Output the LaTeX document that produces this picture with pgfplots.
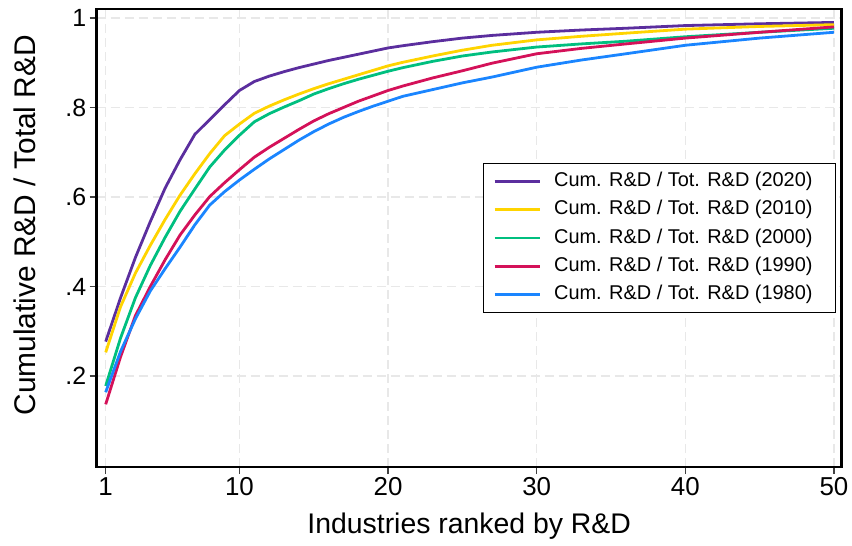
\documentclass[border=0pt]{standalone}
\usepackage{fontspec}
\setmainfont{Liberation Sans}
\usepackage{pgfplots}
\pgfplotsset{compat=1.18}
\definecolor{c2020}{RGB}{91,46,158}
\definecolor{c2010}{RGB}{255,212,0}
\definecolor{c2000}{RGB}{0,191,127}
\definecolor{c1990}{RGB}{212,17,89}
\definecolor{c1980}{RGB}{26,133,255}
\newcommand{\pad}{\rule{13bp}{0bp}}
\begin{document}
\begin{tikzpicture}
\useasboundingbox (-96.7bp,-79bp) rectangle (755.3bp,467bp);
\begin{axis}[
  at={(0,0)}, anchor=south west,
  scale only axis, width=745bp, height=458bp,
  xmin=0.395, xmax=50.52, ymin=-0.003, ymax=1.02,
  xtick={1,10,20,30,40,50},
  ytick={0.2,0.4,0.6,0.8,1},
  yticklabels={.2,.4,.6,.8,1},
  tick align=outside, xtick pos=bottom, ytick pos=left,
  major tick length=7bp,
  every tick/.style={black!75, line width=1.3bp},
  axis line style={black, line width=2.6bp},
  grid=major,
  major grid style={dash pattern=on 9bp off 5bp, black!9, line width=1.4bp},
  /pgf/number format/assume math mode=true,
  xticklabel style={font=\fontsize{26}{30}\selectfont},
  yticklabel style={font=\fontsize{25}{30}\selectfont},
  every axis x label/.style={at={(axis description cs:0.5,0)}, anchor=center, yshift=-59bp, font=\fontsize{28.5}{32}\selectfont},
  every axis y label/.style={at={(axis description cs:-0.0962,0.528)}, anchor=center, rotate=90, font=\fontsize{30}{34}\selectfont},
  xlabel={Industries ranked by R\&D},
  ylabel={Cumulative R\&D / Total R\&D},
  legend style={at={(rel axis cs:0.992,0.6644)}, anchor=north east, draw=black, line width=1bp,
    font=\fontsize{20}{24}\selectfont, inner xsep=9.7bp, inner ysep=8.2bp, row sep=8.3bp, column sep=13.3bp,
    nodes={inner sep=0bp, text height=15bp, text depth=5bp}},
  legend cell align=left,
  legend image code/.code={\draw[#1, line width=2.6bp] (0bp,0bp) -- (45bp,0bp);},
]
\addplot[c2020, line width=2.8bp] coordinates {
(1,.277) (2,.375) (3,.465) (4,.545) (5,.620) (6,.683) (7,.740) (8,.773) (9,.806) (10,.838)
(11,.858) (12,.870) (13,.880) (14,.889) (15,.897) (16,.905) (17,.912) (18,.919) (19,.926) (20,.933)
(21,.938) (23,.947) (25,.955) (27,.961) (30,.968) (33,.973) (36,.977) (40,.983) (45,.987) (50,.990)};
\addlegendentry{Cum. R\&D / Tot. R\&D (2020)\pad}
\addplot[c2010, line width=2.8bp] coordinates {
(1,.253) (2,.355) (3,.430) (4,.492) (5,.550) (6,.604) (7,.652) (8,.697) (9,.737) (10,.763)
(11,.787) (12,.803) (13,.817) (14,.830) (15,.842) (16,.853) (17,.863) (18,.873) (19,.883) (20,.893)
(21,.901) (23,.915) (25,.928) (27,.939) (30,.951) (33,.959) (36,.966) (40,.975) (45,.981) (50,.985)};
\addlegendentry{Cum. R\&D / Tot. R\&D (2010)\pad}
\addplot[c2000, line width=2.8bp] coordinates {
(1,.178) (2,.285) (3,.375) (4,.447) (5,.510) (6,.568) (7,.618) (8,.667) (9,.705) (10,.738)
(11,.768) (12,.786) (13,.801) (14,.815) (15,.830) (16,.842) (17,.853) (18,.863) (19,.872) (20,.881)
(21,.889) (23,.903) (25,.915) (27,.924) (30,.935) (33,.942) (36,.948) (40,.958) (45,.968) (50,.977)};
\addlegendentry{Cum. R\&D / Tot. R\&D (2000)\pad}
\addplot[c1990, line width=2.8bp] coordinates {
(1,.137) (2,.243) (3,.335) (4,.400) (5,.460) (6,.515) (7,.560) (8,.601) (9,.632) (10,.661)
(11,.689) (12,.711) (13,.731) (14,.751) (15,.770) (16,.786) (17,.800) (18,.814) (19,.826) (20,.838)
(21,.848) (23,.866) (25,.882) (27,.899) (30,.920) (33,.932) (36,.942) (40,.955) (45,.968) (50,.980)};
\addlegendentry{Cum. R\&D / Tot. R\&D (1990)\pad}
\addplot[c1980, line width=2.8bp] coordinates {
(1,.164) (2,.255) (3,.328) (4,.390) (5,.440) (6,.488) (7,.538) (8,.582) (9,.612) (10,.638)
(11,.662) (12,.685) (13,.706) (14,.727) (15,.746) (16,.763) (17,.778) (18,.791) (19,.803) (20,.814)
(21,.825) (23,.840) (25,.855) (27,.868) (30,.890) (33,.906) (36,.920) (40,.939) (45,.955) (50,.968)};
\addlegendentry{Cum. R\&D / Tot. R\&D (1980)\pad}
\end{axis}
\end{tikzpicture}
\end{document}
